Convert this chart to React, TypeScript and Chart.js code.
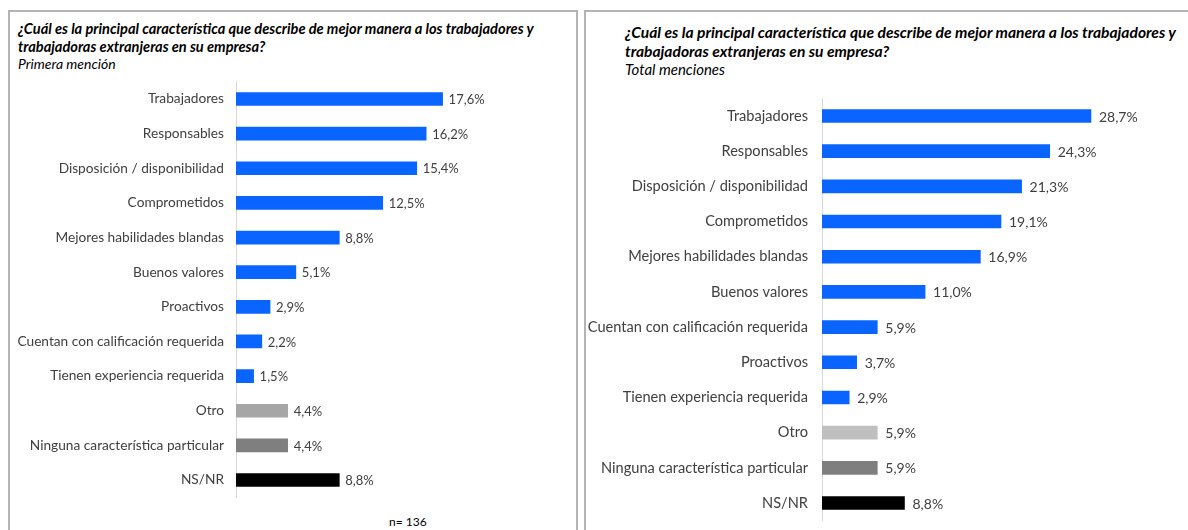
import React, { useEffect, useRef } from "react";
import { Chart, registerables } from "chart.js";

Chart.register(...registerables);

const BLUE = "#0A64FF";

const leftCategories = [
  "Trabajadores",
  "Responsables",
  "Disposición / disponibilidad",
  "Comprometidos",
  "Mejores habilidades blandas",
  "Buenos valores",
  "Proactivos",
  "Cuentan con calificación requerida",
  "Tienen experiencia requerida",
  "Otro",
  "Ninguna característica particular",
  "NS/NR",
];
const leftValues = [17.6, 16.2, 15.4, 12.5, 8.8, 5.1, 2.9, 2.2, 1.5, 4.4, 4.4, 8.8];
const leftColors = [BLUE, BLUE, BLUE, BLUE, BLUE, BLUE, BLUE, BLUE, BLUE, "#A6A6A6", "#7F7F7F", "#000000"];

const rightCategories = [
  "Trabajadores",
  "Responsables",
  "Disposición / disponibilidad",
  "Comprometidos",
  "Mejores habilidades blandas",
  "Buenos valores",
  "Cuentan con calificación requerida",
  "Proactivos",
  "Tienen experiencia requerida",
  "Otro",
  "Ninguna característica particular",
  "NS/NR",
];
const rightValues = [28.7, 24.3, 21.3, 19.1, 16.9, 11.0, 5.9, 3.7, 2.9, 5.9, 5.9, 8.8];
const rightColors = [BLUE, BLUE, BLUE, BLUE, BLUE, BLUE, BLUE, BLUE, BLUE, "#BFBFBF", "#7F7F7F", "#000000"];

const titleLine1 = "¿Cuál es la principal característica que describe de mejor manera a los trabajadores y";
const titleLine2 = "trabajadoras extranjeras en su empresa?";
const leftSubtitle = "Primera mención";
const rightSubtitle = "Total menciones";
const sampleNote = "n= 136";

const FONT = "Lato, 'Open Sans', sans-serif";

type PanelProps = {
  categories: string[];
  values: number[];
  colors: string[];
  width: number;
  height: number;
  yWidth: number;
  xMax: number;
  pad: { top: number; bottom: number; right: number };
  tickFontSize: number;
  valueFontSize: number;
  labelOffset: number;
  tickPad: number;
};

function BarPanel(props: PanelProps) {
  const ref = useRef<HTMLCanvasElement | null>(null);
  useEffect(() => {
    if (!ref.current) return;
    const valueLabels = {
      id: "valueLabels",
      afterDatasetsDraw(chart: any) {
        const ctx = chart.ctx;
        const meta = chart.getDatasetMeta(0);
        ctx.save();
        ctx.font = `${props.valueFontSize}px ${FONT}`;
        ctx.fillStyle = "#404040";
        ctx.textAlign = "left";
        ctx.textBaseline = "middle";
        meta.data.forEach((el: any, i: number) => {
          const v = props.values[i];
          const txt = v.toFixed(1).replace(".", ",") + "%";
          ctx.fillText(txt, el.x + props.labelOffset, el.y + 1);
        });
        ctx.restore();
      },
    };
    const chart = new Chart(ref.current, {
      type: "bar",
      data: {
        labels: props.categories,
        datasets: [
          {
            data: props.values,
            backgroundColor: props.colors,
            borderWidth: 0,
            barThickness: 13,
          },
        ],
      },
      options: {
        indexAxis: "y",
        animation: false,
        responsive: false,
        maintainAspectRatio: false,
        devicePixelRatio: 1,
        layout: { padding: { top: props.pad.top, bottom: props.pad.bottom, right: props.pad.right, left: 0 } },
        plugins: { legend: { display: false }, tooltip: { enabled: false }, title: { display: false } },
        scales: {
          x: { display: false, min: 0, max: props.xMax },
          y: {
            afterFit: (scale: any) => {
              scale.width = props.yWidth;
              scale.paddingTop = 0;
              scale.paddingBottom = 0;
            },
            grid: { display: true, color: "rgba(0,0,0,0)", drawTicks: false },
            border: { display: true, color: "#D9D9D9", width: 1 },
            ticks: {
              padding: props.tickPad,
              color: "#404040",
              font: { family: FONT, size: props.tickFontSize },
            },
          },
        },
      },
      plugins: [valueLabels],
    } as any);
    return () => chart.destroy();
  }, []);
  return (
    <canvas
      ref={ref}
      width={props.width}
      height={props.height}
      style={{ width: props.width, height: props.height, display: "block" }}
    />
  );
}

export default function App() {
  return (
    <div
      style={{
        position: "absolute",
        left: 0,
        top: 0,
        width: 1188,
        height: 530,
        overflow: "hidden",
        background: "#fff",
        fontFamily: FONT,
      }}
    >
      <div
        style={{
          position: "absolute",
          left: 8,
          top: 10,
          width: 566,
          height: 560,
          border: "2px solid #B4B4B4",
        }}
      />
      <div
        style={{
          position: "absolute",
          left: 584,
          top: 10,
          width: 700,
          height: 560,
          border: "2px solid #B4B4B4",
        }}
      />
      <div
        style={{
          position: "absolute",
          left: 18,
          top: 20,
          fontSize: 14.6,
          lineHeight: "17.5px",
          color: "#000",
          whiteSpace: "nowrap",
        }}
      >
        <div style={{ fontWeight: 700, fontStyle: "italic" }}>{titleLine1}</div>
        <div style={{ fontWeight: 700, fontStyle: "italic" }}>{titleLine2}</div>
        <div style={{ fontStyle: "italic", fontSize: 14 }}>{leftSubtitle}</div>
      </div>
      <div
        style={{
          position: "absolute",
          left: 625,
          top: 23,
          fontSize: 15.6,
          lineHeight: "18.5px",
          color: "#000",
          whiteSpace: "nowrap",
        }}
      >
        <div style={{ fontWeight: 700, fontStyle: "italic" }}>{titleLine1}</div>
        <div style={{ fontWeight: 700, fontStyle: "italic" }}>{titleLine2}</div>
        <div style={{ fontStyle: "italic", fontSize: 15 }}>{rightSubtitle}</div>
      </div>
      <div style={{ position: "absolute", left: 8, top: 76 }}>
        <BarPanel
          categories={leftCategories}
          values={leftValues}
          colors={leftColors}
          width={570}
          height={430}
          yWidth={228}
          xMax={28}
          pad={{ top: 5.7, bottom: 8.7, right: 13.3 }}
          tickFontSize={13.7}
          valueFontSize={13}
          labelOffset={6}
          tickPad={12}
        />
      </div>
      <div style={{ position: "absolute", left: 584, top: 90 }}>
        <BarPanel
          categories={rightCategories}
          values={rightValues}
          colors={rightColors}
          width={604}
          height={440}
          yWidth={238}
          xMax={38}
          pad={{ top: 8.4, bottom: 9.4, right: 9.9 }}
          tickFontSize={14.6}
          valueFontSize={14}
          labelOffset={8}
          tickPad={14}
        />
      </div>
      <div
        style={{
          position: "absolute",
          left: 389,
          top: 514,
          fontSize: 12,
          color: "#000",
          whiteSpace: "nowrap",
        }}
      >
        {sampleNote}
      </div>
    </div>
  );
}
